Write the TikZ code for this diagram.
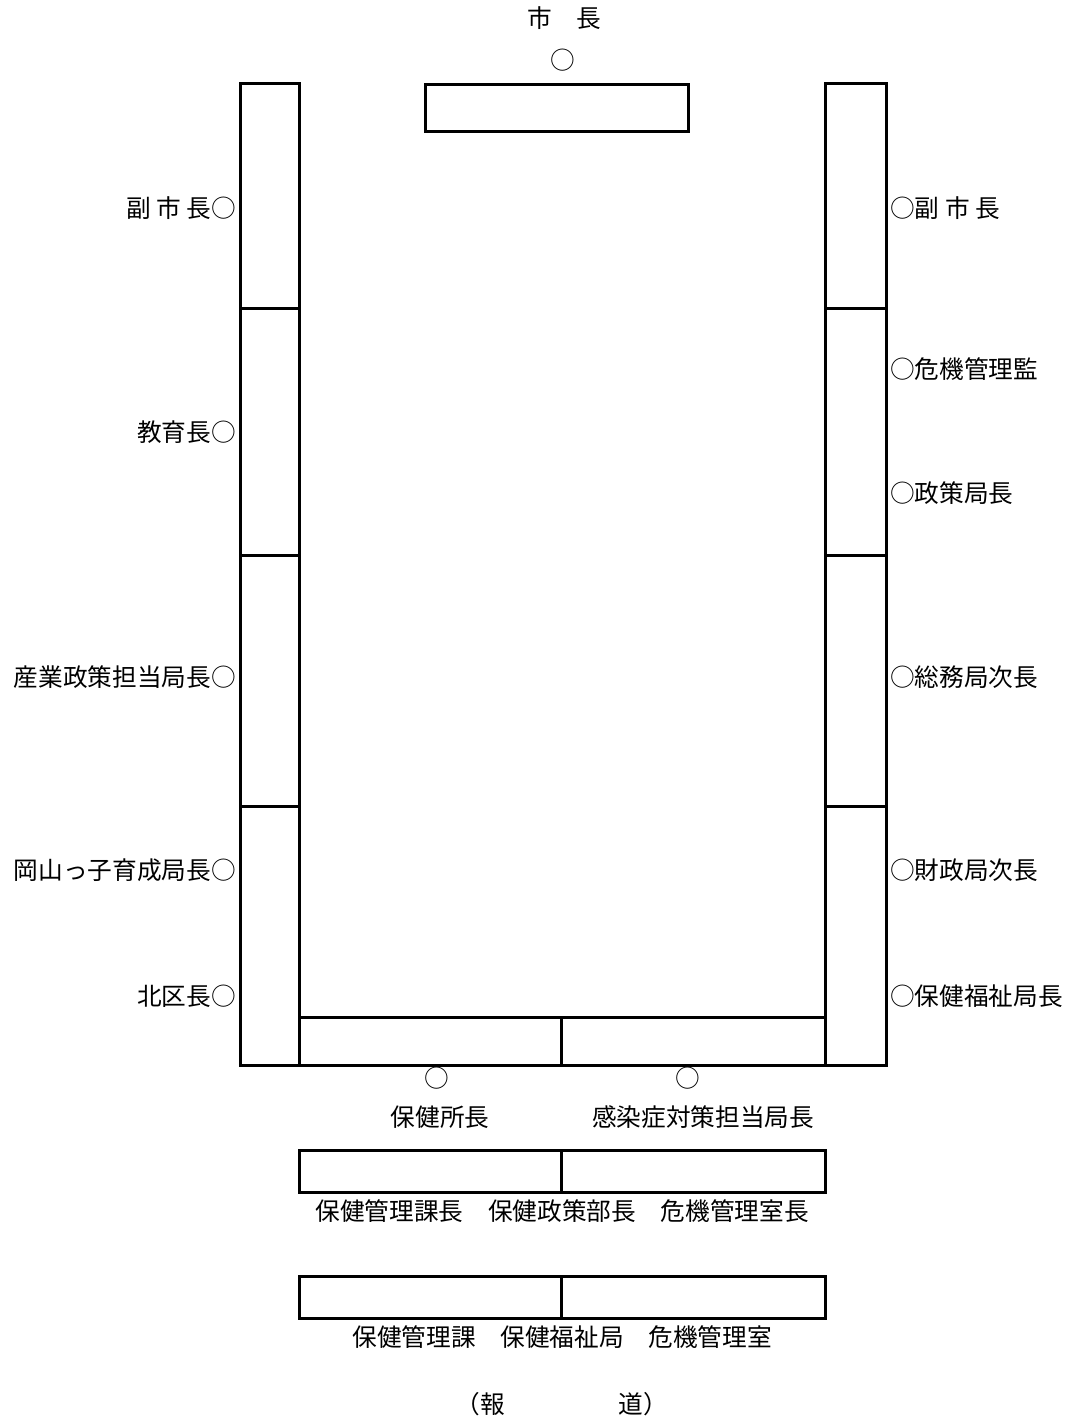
\documentclass[tikz,border=0pt]{standalone}
\usepackage{fontspec}
\setmainfont{Noto Sans CJK JP}

\begin{document}
\begin{tikzpicture}[
    x=0.75pt, y=-0.75pt,
    desk/.style={draw=black, line width=2.25pt},
    seat/.style={font=\fontsize{18.5}{20}\selectfont, inner sep=0pt}
]
    \useasboundingbox (0,0) rectangle (1072,1421);

    % --- Mayor (top) ---
    \node[seat] (mayor) at (564,18) {市　長};
    \node[seat] (mayorSeat) at (563,60) {○};
    \draw[desk] (425,84) rectangle (688,131);

    % --- Side tables ---
    \draw[desk] (240,83) rectangle (299,1065);
    \draw[desk] (825,83) rectangle (886,1065);
    \foreach \y in {308,555,806} {
        \draw[desk] (240,\y) -- (299,\y);
        \draw[desk] (825,\y) -- (886,\y);
    }

    % --- Left row ---
    \foreach \txt/\y [count=\i] in {副 市 長○/208, 教育長○/432,
        産業政策担当局長○/677, 岡山っ子育成局長○/870, 北区長○/996} {
        \node[seat, anchor=east] (L\i) at (236,\y) {\txt};
    }

    % --- Right row ---
    \foreach \txt/\y [count=\i] in {○副 市 長/208, ○危機管理監/369, ○政策局長/493,
        ○総務局次長/677, ○財政局次長/870, ○保健福祉局長/996} {
        \node[seat, anchor=west] (R\i) at (890,\y) {\txt};
    }

    % --- Bottom table ---
    \draw[desk] (299,1017) rectangle (825,1065);
    \draw[desk] (561,1017) -- (561,1065);
    \node[seat] (hcSeat) at (437,1078) {○};
    \node[seat] (icSeat) at (688,1078) {○};
    \node[seat] (hc) at (440,1117) {保健所長};
    \node[seat] (ic) at (703,1117) {感染症対策担当局長};

    % --- Staff rows ---
    \foreach \y in {1150,1276} {
        \draw[desk] (299,\y) rectangle (825,\y+42);
        \draw[desk] (561,\y) -- (561,\y+42);
    }
    \node[seat] (staffA) at (562,1211) {保健管理課長　保健政策部長　危機管理室長};
    \node[seat] (staffB) at (562,1337) {保健管理課　保健福祉局　危機管理室};

    % --- Press ---
    \node[seat] (press) at (562,1404) {（報\hspace{4.6em}道）};
\end{tikzpicture}
\end{document}
